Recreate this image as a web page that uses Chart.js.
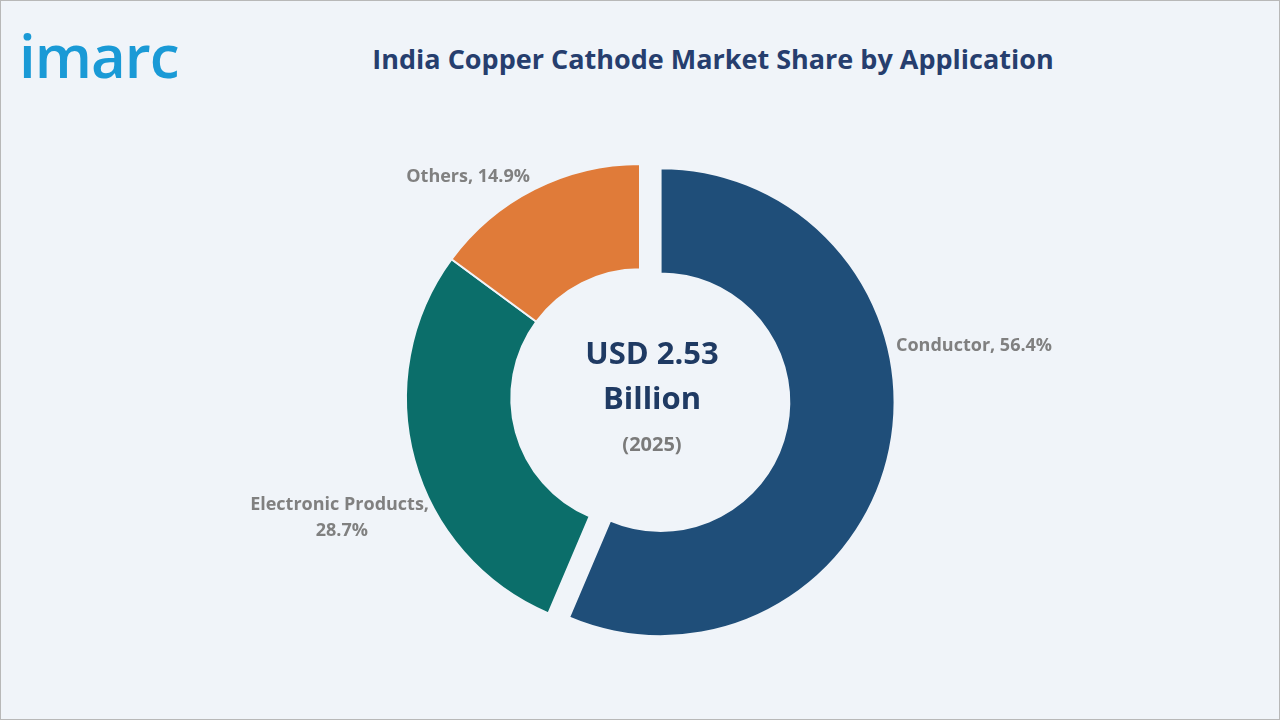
<!DOCTYPE html>
<html><head><meta charset="utf-8">
<script src="https://cdn.jsdelivr.net/npm/chart.js@4"></script>
<style>
html,body{margin:0;padding:0;background:#f0f4f9;}
#wrap{position:relative;width:1278px;height:718px;border:1px solid #b8b8b8;background:#f0f4f9;}
#logo{position:absolute;left:18px;top:22px;font:600 60px "Open Sans",sans-serif;color:#1a9ad6;letter-spacing:-1px;line-height:64px;}
#title{position:absolute;left:200px;width:1024px;top:39px;text-align:center;font:bold 27px "Open Sans",sans-serif;color:#263e6e;}
canvas{position:absolute;left:0;top:0;}
</style></head><body>
<div id="wrap">
<div id="logo">imarc</div>
<div id="title">India Copper Cathode Market Share by Application</div>
<canvas id="c" width="1278" height="718"></canvas>
</div>
<script>
const categories = ["Conductor", "Electronic Products", "Others"];
const shares = [56.4, 28.7, 14.9];
const colors = ["#1f4e79", "#0b6e6a", "#e07b39"];
const centerLines = ["USD 2.53", "Billion", "(2025)"];
const explode = 21;

const explodePlugin = {
  id: 'explode',
  afterDatasetsUpdate(chart) {
    const el = chart.getDatasetMeta(0).data[0];
    const mid = (el.startAngle + el.endAngle) / 2;
    el.x += Math.cos(mid) * explode;
    el.y += Math.sin(mid) * explode;
  }
};

const labelPlugin = {
  id: 'labels',
  afterDatasetsDraw(chart) {
    const ctx = chart.ctx;
    const cx = chart.chartArea.left + chart.chartArea.width/2;
    const cy = chart.chartArea.top + chart.chartArea.height/2;
    ctx.save();
    ctx.textBaseline = 'middle';
    ctx.fillStyle = '#1f3a63';
    ctx.textAlign = 'center';
    ctx.font = 'bold 31px "Open Sans", sans-serif';
    ctx.fillText(centerLines[0], cx + 12, cy - 43);
    ctx.fillText(centerLines[1], cx + 12, cy + 2);
    ctx.fillStyle = '#7a7a7a';
    ctx.font = 'bold 20px "Open Sans", sans-serif';
    ctx.fillText(centerLines[2], cx + 12, cy + 47);
    ctx.font = 'bold 18px "Open Sans", sans-serif';
    ctx.fillStyle = '#808080';
    ctx.textAlign = 'left';
    ctx.fillText(categories[0] + ', ' + shares[0] + '%', cx + 256, cy - 52);
    ctx.textAlign = 'right';
    ctx.fillText(categories[1] + ',', cx - 211, cy + 107);
    ctx.fillText(shares[1] + '%', cx - 272, cy + 133);
    ctx.fillText(categories[2] + ', ' + shares[2] + '%', cx - 110, cy - 221);
    ctx.restore();
  }
};

new Chart(document.getElementById('c'), {
  type: 'doughnut',
  data: { labels: categories, datasets: [{ data: shares, backgroundColor: colors,
    borderColor: '#f0f4f9', borderWidth: 2 }] },
  options: {
    responsive: false, animation: false,
    radius: 234, cutout: '55%',
    layout: { padding: { left: 339, right: 339, top: 98, bottom: 22 } },
    plugins: { legend: { display: false }, tooltip: { enabled: false } }
  },
  plugins: [explodePlugin, labelPlugin]
});
</script>
</body></html>
